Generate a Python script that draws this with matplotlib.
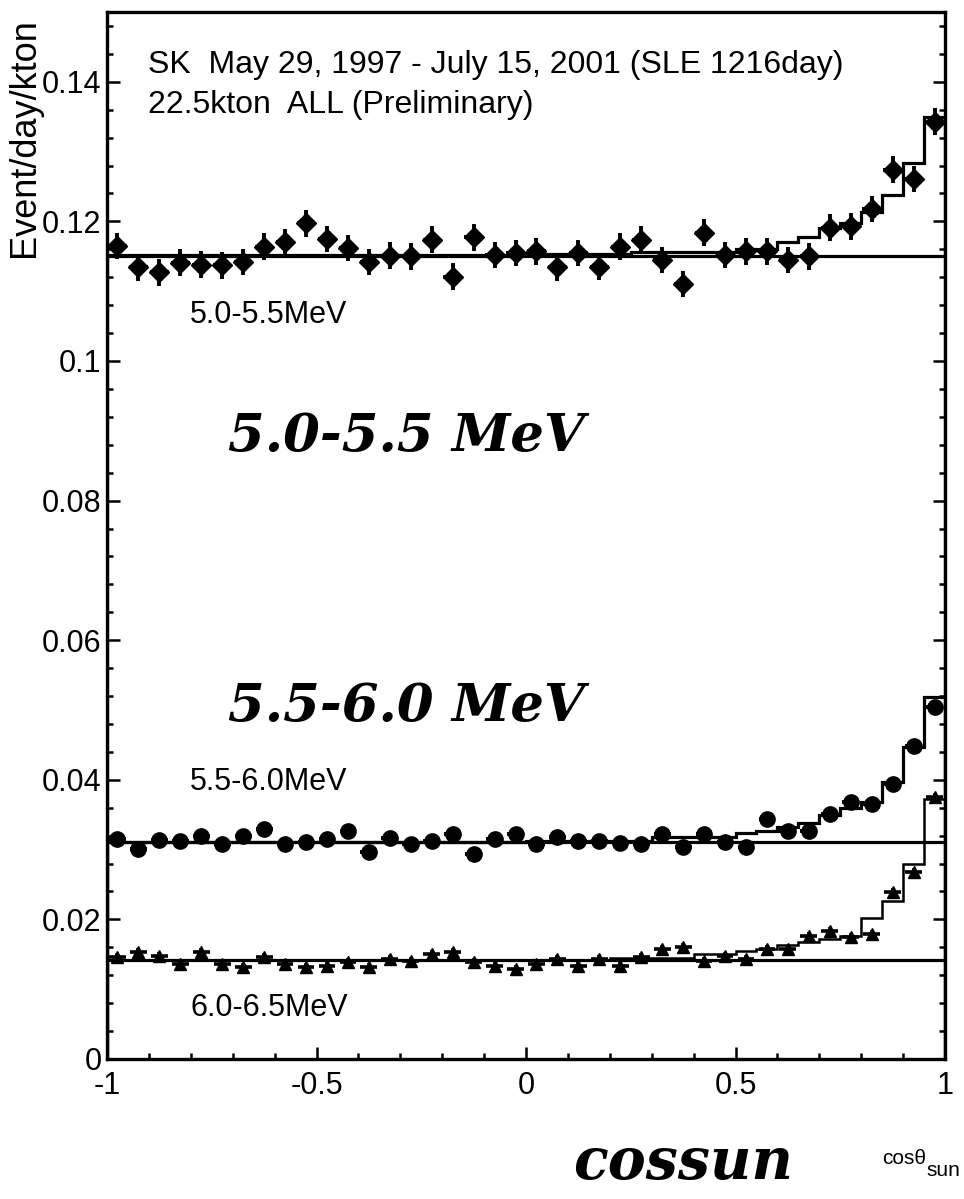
import numpy as np
import matplotlib
matplotlib.use("Agg")
import matplotlib.pyplot as plt
from matplotlib.ticker import MultipleLocator, FixedLocator

# ---------------- data ----------------
bin_edges = [-1.0, -0.95, -0.9, -0.85, -0.8, -0.75, -0.7, -0.65, -0.6, -0.55,
             -0.5, -0.45, -0.4, -0.35, -0.3, -0.25, -0.2, -0.15, -0.1, -0.05,
             0.0, 0.05, 0.1, 0.15, 0.2, 0.25, 0.3, 0.35, 0.4, 0.45,
             0.5, 0.55, 0.6, 0.65, 0.7, 0.75, 0.8, 0.85, 0.9, 0.95, 1.0]
bin_centers = [-0.975, -0.925, -0.875, -0.825, -0.775, -0.725, -0.675, -0.625, -0.575, -0.525,
               -0.475, -0.425, -0.375, -0.325, -0.275, -0.225, -0.175, -0.125, -0.075, -0.025,
               0.025, 0.075, 0.125, 0.175, 0.225, 0.275, 0.325, 0.375, 0.425, 0.475,
               0.525, 0.575, 0.625, 0.675, 0.725, 0.775, 0.825, 0.875, 0.925, 0.975]

# 5.0-5.5 MeV data
data_50_55 = [0.1165, 0.1134, 0.1127, 0.1141, 0.1138, 0.1137, 0.1142, 0.1164, 0.1170, 0.1197,
              0.1175, 0.1162, 0.1142, 0.1151, 0.1150, 0.1174, 0.1121, 0.1177, 0.1152, 0.1155,
              0.1157, 0.1134, 0.1155, 0.1135, 0.1164, 0.1174, 0.1145, 0.1110, 0.1184, 0.1152,
              0.1157, 0.1157, 0.1145, 0.1150, 0.1191, 0.1193, 0.1218, 0.1274, 0.1261, 0.1343]
err_50_55 = 0.0019
mc_50_55 = [0.1152, 0.1152, 0.1152, 0.1152, 0.1152, 0.1152, 0.1152, 0.1152, 0.1152, 0.1152,
            0.1152, 0.1152, 0.1152, 0.1152, 0.1152, 0.1152, 0.1152, 0.1152, 0.1152, 0.1152,
            0.1153, 0.1153, 0.1153, 0.1153, 0.1153, 0.1156, 0.1156, 0.1156, 0.1156, 0.1156,
            0.1160, 0.1160, 0.1170, 0.1178, 0.1191, 0.1198, 0.1213, 0.1238, 0.1284, 0.1349]
bg_50_55 = 0.1151

# 5.5-6.0 MeV data
data_55_60 = [0.0315, 0.0301, 0.0314, 0.0312, 0.0319, 0.0308, 0.0319, 0.0329, 0.0308, 0.0311,
              0.0315, 0.0326, 0.0296, 0.0316, 0.0308, 0.0312, 0.0322, 0.0293, 0.0315, 0.0322,
              0.0308, 0.0318, 0.0312, 0.0312, 0.0309, 0.0308, 0.0322, 0.0304, 0.0322, 0.0311,
              0.0304, 0.0344, 0.0326, 0.0326, 0.0351, 0.0368, 0.0365, 0.0394, 0.0448, 0.0505]
err_55_60 = 0.0007
mc_55_60 = [0.0311, 0.0311, 0.0311, 0.0311, 0.0311, 0.0311, 0.0311, 0.0311, 0.0311, 0.0311,
            0.0311, 0.0311, 0.0311, 0.0311, 0.0311, 0.0311, 0.0311, 0.0311, 0.0311, 0.0311,
            0.0312, 0.0312, 0.0312, 0.0312, 0.0312, 0.0312, 0.0318, 0.0318, 0.0318, 0.0318,
            0.0324, 0.0327, 0.0332, 0.0338, 0.0350, 0.0360, 0.0368, 0.0397, 0.0447, 0.0518]
bg_55_60 = 0.0311

# 6.0-6.5 MeV data
data_60_65 = [0.0146, 0.0153, 0.0147, 0.0136, 0.0153, 0.0136, 0.0132, 0.0146, 0.0136, 0.0132,
              0.0133, 0.0139, 0.0132, 0.0143, 0.0140, 0.0150, 0.0153, 0.0139, 0.0133, 0.0129,
              0.0136, 0.0143, 0.0133, 0.0143, 0.0133, 0.0146, 0.0157, 0.0160, 0.0140, 0.0147,
              0.0143, 0.0157, 0.0157, 0.0176, 0.0183, 0.0175, 0.0179, 0.0239, 0.0268, 0.0375]
err_60_65 = 0.0006
mc_60_65 = [0.0142, 0.0142, 0.0142, 0.0142, 0.0142, 0.0142, 0.0142, 0.0142, 0.0142, 0.0142,
            0.0142, 0.0142, 0.0142, 0.0142, 0.0142, 0.0142, 0.0142, 0.0142, 0.0142, 0.0142,
            0.0142, 0.0142, 0.0142, 0.0142, 0.0145, 0.0145, 0.0145, 0.0145, 0.0150, 0.0150,
            0.0155, 0.0158, 0.0163, 0.0168, 0.0172, 0.0176, 0.0202, 0.0226, 0.0279, 0.0372]
bg_60_65 = 0.0142

x_ticks = [-1, -0.5, 0, 0.5, 1]
x_tick_labels = ["-1", "-0.5", "0", "0.5", "1"]
y_ticks = [0, 0.02, 0.04, 0.06, 0.08, 0.1, 0.12, 0.14]
y_tick_labels = ["0", "0.02", "0.04", "0.06", "0.08", "0.1", "0.12", "0.14"]

# ---------------- figure ----------------
W, H = 964, 1199
fig = plt.figure(figsize=(W / 100, H / 100), dpi=100)
plt.rcParams['font.family'] = ['Liberation Sans', 'DejaVu Sans']

def fx(px):
    return px / W

def fy(py):
    return 1 - py / H

ax = fig.add_axes([fx(107), fy(1059), fx(945) - fx(107), fy(12) - fy(1059)])
ax.set_xlim(-1, 1)
ax.set_ylim(0, 0.15)

lw = 2.3
# flat background lines
ax.plot([-1, 1], [bg_50_55, bg_50_55], color='black', lw=lw)
ax.plot([-1, 1], [bg_55_60, bg_55_60], color='black', lw=lw)
ax.plot([-1, 1], [bg_60_65, bg_60_65], color='black', lw=lw)

# expected histograms
ax.stairs(mc_50_55, bin_edges, color='black', lw=lw)
ax.stairs(mc_55_60, bin_edges, color='black', lw=lw)
ax.stairs(mc_60_65, bin_edges, color='black', lw=1.8)

# data points
ax.errorbar(bin_centers, data_50_55, yerr=err_50_55, xerr=0.022, fmt='D', ms=10,
            color='black', elinewidth=2.8, capsize=0, zorder=5)
ax.errorbar(bin_centers, data_55_60, yerr=err_55_60, xerr=0.02, fmt='o', ms=11,
            color='black', elinewidth=2.8, capsize=0, zorder=5)
ax.errorbar(bin_centers, data_60_65, yerr=err_60_65, xerr=0.02, fmt='^', ms=8,
            color='black', elinewidth=2.6, capsize=0, zorder=5)

# axes styling
for sp in ax.spines.values():
    sp.set_linewidth(2.4)
ax.xaxis.set_major_locator(FixedLocator(x_ticks))
ax.set_xticklabels(x_tick_labels)
ax.yaxis.set_major_locator(FixedLocator(y_ticks))
ax.set_yticklabels(y_tick_labels)
ax.xaxis.set_minor_locator(MultipleLocator(0.1))
ax.yaxis.set_minor_locator(MultipleLocator(0.004))
ax.tick_params(which='both', direction='in', top=False, right=True, width=1.8)
ax.tick_params(which='major', length=9, labelsize=22)
ax.tick_params(which='minor', length=4.5)
ax.tick_params(axis='y', pad=4)
ax.tick_params(axis='x', pad=9)

# texts
fig.text(fx(148), fy(65), "SK  May 29, 1997 - July 15, 2001 (SLE 1216day)",
         fontsize=23, ha='left', va='center')
fig.text(fx(148), fy(105), "22.5kton  ALL (Preliminary)",
         fontsize=23, ha='left', va='center')
fig.text(fx(190), fy(315), "5.0-5.5MeV", fontsize=22, ha='left', va='center')
fig.text(fx(190), fy(782), "5.5-6.0MeV", fontsize=22, ha='left', va='center')
fig.text(fx(190), fy(1008), "6.0-6.5MeV", fontsize=22, ha='left', va='center')
fig.text(fx(25), fy(138), "Event/day/kton", fontsize=26, rotation=90,
         ha='center', va='center')

big = dict(family='DejaVu Serif', fontweight='bold', fontstyle='italic')
fig.text(fx(228), fy(437), "5.0-5.5 MeV", fontsize=38, ha='left', va='center', **big)
fig.text(fx(228), fy(707), "5.5-6.0 MeV", fontsize=38, ha='left', va='center', **big)
fig.text(fx(573), fy(1163), "cossun", fontsize=41, ha='left', va='center', **big)

fig.text(fx(882), fy(1159), "cosθ", fontsize=15, ha='left', va='center')
fig.text(fx(926), fy(1171), "sun", fontsize=15, ha='left', va='center')

fig.savefig("out.png", dpi=100)
